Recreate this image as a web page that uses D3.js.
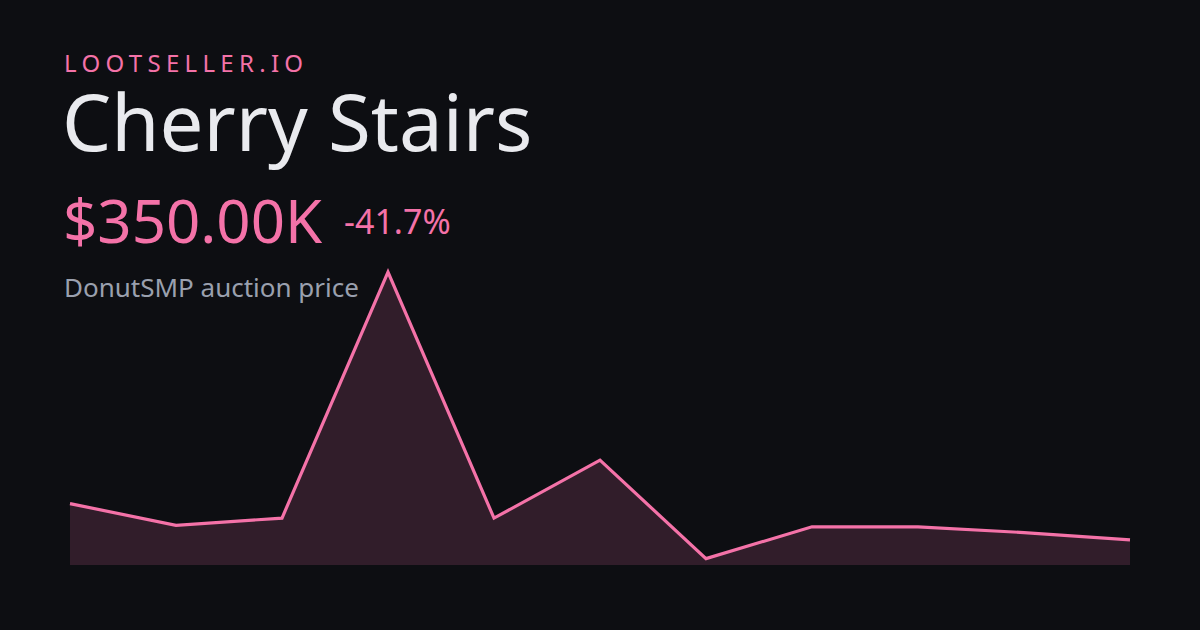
<!DOCTYPE html>
<html><head><meta charset="utf-8">
<script src="https://cdn.jsdelivr.net/npm/d3@7"></script>
<style>html,body{margin:0;padding:0;background:#0d0e12;}svg{display:block;}</style>
</head><body>
<script>
const brand = "LOOTSELLER.IO";
const title = "Cherry Stairs";
const priceLabel = "$350.00K";
const changeLabel = "-41.7%";
const subtitle = "DonutSMP auction price";
const periods = [0,1,2,3,4,5,6,7,8,9,10];
const prices = [600, 450, 500, 2200, 500, 900, 220, 440, 440, 400, 350];

const W = 1200, H = 630;
const pink = "#f472a8";
const svg = d3.select("body").append("svg").attr("width", W).attr("height", H);
svg.append("rect").attr("width", W).attr("height", H).attr("fill", "#0d0e12");

const x = d3.scalePoint().domain(periods).range([70, 1130]);
const y = d3.scaleLinear().domain([d3.min(prices) * 0.8, d3.max(prices)]).range([565, 272]);
const data = periods.map((p, i) => ({p, v: prices[i]}));

svg.append("path").datum(data)
  .attr("d", d3.area().x(d => x(d.p)).y0(565).y1(d => y(d.v)))
  .attr("fill", pink).attr("fill-opacity", 0.16);
svg.append("path").datum(data)
  .attr("d", d3.line().x(d => x(d.p)).y(d => y(d.v)))
  .attr("fill", "none").attr("stroke", pink).attr("stroke-width", 3.2).attr("stroke-linejoin", "miter");

const font = "'Noto Sans', 'Open Sans', sans-serif";
svg.append("text").attr("x", 64).attr("y", 72).text(brand)
  .attr("font-family", font).attr("font-size", 24).attr("letter-spacing", 5.3).attr("fill", pink);
svg.append("text").attr("x", 62).attr("y", 151).text(title)
  .attr("font-family", font).attr("font-size", 78).attr("fill", "#e9eaee");
svg.append("text").attr("x", 344).attr("y", 234).text(changeLabel)
  .attr("font-family", font).attr("font-size", 34).attr("fill", pink);
svg.append("text").attr("x", 63).attr("y", 243).text(priceLabel)
  .attr("font-family", font).attr("font-size", 60).attr("fill", pink);
svg.append("text").attr("x", 64).attr("y", 297).text(subtitle)
  .attr("font-family", font).attr("font-size", 26).attr("fill", "#9aa0ae");
</script>
</body></html>
